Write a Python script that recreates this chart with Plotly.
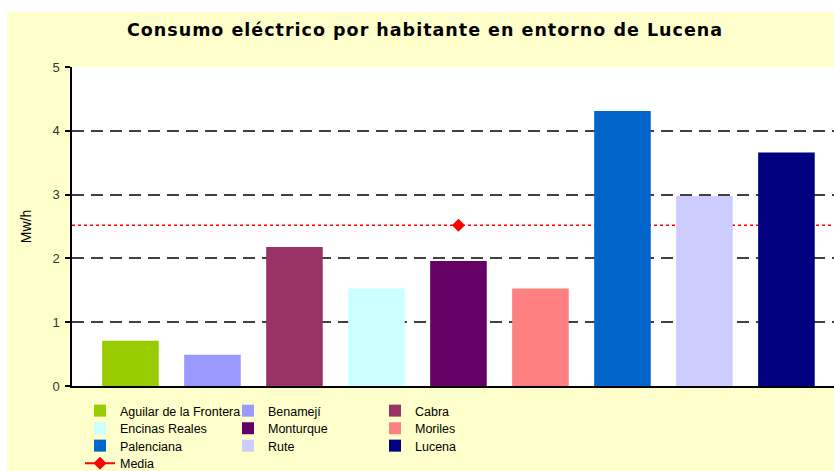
import plotly.graph_objects as go

categories = ["Aguilar de la Frontera", "Benamejí", "Cabra", "Encinas Reales",
              "Monturque", "Moriles", "Palenciana", "Rute", "Lucena"]
values = [0.71, 0.49, 2.18, 1.53, 1.96, 1.53, 4.31, 2.98, 3.66]
colors = ["#99CC00", "#9999FF", "#993366", "#CCFFFF", "#660066",
          "#FF8080", "#0066CC", "#CCCCFF", "#000080"]
media_value = 2.52
media_label = "Media"
media_category = "Monturque"
y_ticks = [0, 1, 2, 3, 4, 5]

W, H = 834, 471
L, R, T, B = 72, 0, 67, 0
PLOT_BOTTOM = 386
pw, ph = W - L - R, H - T - B

def px_x(p):
    return (p - L) / pw

def px_y(p):
    return (H - B - p) / ph

# legend grid (3 columns, filled row by row)
LEG_COL_X = [80, 228, 375]
LEG_ROW_Y = [411, 428.5, 446, 463.5]
legend_font = dict(family="Liberation Sans, Arial, sans-serif", size=12.5, color="#000000")

fig = go.Figure()
layout_legends = {}
names = categories + [media_label]
for i, name in enumerate(names):
    lname = "legend" if i == 0 else f"legend{i + 1}"
    row, col = divmod(i, 3)
    layout_legends[lname] = dict(
        x=px_x(LEG_COL_X[col]), xanchor="left", y=px_y(LEG_ROW_Y[row]), yanchor="middle",
        orientation="v", itemwidth=30, bgcolor="rgba(0,0,0,0)", borderwidth=0,
        font=legend_font,
    )

for i, (cat, val, col) in enumerate(zip(categories, values, colors)):
    fig.add_trace(go.Bar(
        x=[cat], y=[val], name=cat, marker=dict(color=col, line=dict(width=0)),
        width=0.69, showlegend=True, legend="legend" if i == 0 else f"legend{i + 1}",
    ))

fig.add_trace(go.Scatter(
    x=[media_category], y=[media_value], name=media_label, mode="lines+markers",
    line=dict(color="#FF0000", width=2),
    marker=dict(symbol="diamond", size=10, color="#FF0000"),
    legend=f"legend{len(names)}",
))

shapes = [
    dict(type="rect", xref="paper", yref="paper", x0=px_x(7), x1=1.2,
         y0=-0.2, y1=px_y(12), fillcolor="#FFFFCC", line=dict(width=0), layer="below"),
    dict(type="rect", xref="x domain", yref="y domain", x0=0, x1=1, y0=0, y1=1,
         fillcolor="#FFFFFF", line=dict(width=0), layer="below"),
    dict(type="line", xref="x domain", yref="y", x0=0, x1=1, y0=media_value, y1=media_value,
         line=dict(color="#FF0000", width=1.5, dash="dot"), layer="below"),
]

fig.update_layout(
    width=W, height=H,
    margin=dict(l=L, r=R, t=T, b=B, autoexpand=False),
    paper_bgcolor="#FFFFFF", plot_bgcolor="rgba(0,0,0,0)",
    shapes=shapes,
    title=dict(text="<span style=\"letter-spacing:1px\"><b>Consumo eléctrico por habitante en entorno de Lucena</b></span>",
               x=425 / W, xanchor="center", y=1 - 30 / H, yanchor="middle",
               font=dict(family="DejaVu Sans, Verdana, sans-serif", size=17.5, color="#000000")),
    bargap=0.3,
    showlegend=True,
    font=dict(family="Liberation Sans, Arial, sans-serif", color="#000000"),
    **layout_legends,
)

fig.update_xaxes(
    type="category", categoryorder="array", categoryarray=categories,
    range=[-0.713, 8.58], showticklabels=False, showgrid=False, zeroline=False,
    showline=True, linecolor="#000000", linewidth=1.5, ticks="",
)
fig.update_yaxes(
    domain=[px_y(PLOT_BOTTOM), 1],
    range=[0, 5], tickvals=y_ticks, ticks="outside", ticklen=5, tickcolor="#000000",
    tickwidth=1.5, showline=True, linecolor="#000000", linewidth=1.5,
    showgrid=True, gridcolor="#404040", gridwidth=2, griddash="12px,7px", zeroline=False,
    tickfont=dict(size=13, color="#333333"), ticklabelstandoff=3, automargin=True,
    title=dict(text="Mw/h", font=dict(size=14, color="#000000"), standoff=18),
)

fig.write_html("out.html", post_script="document.body.style.margin='0';",
               config={"displayModeBar": False})
